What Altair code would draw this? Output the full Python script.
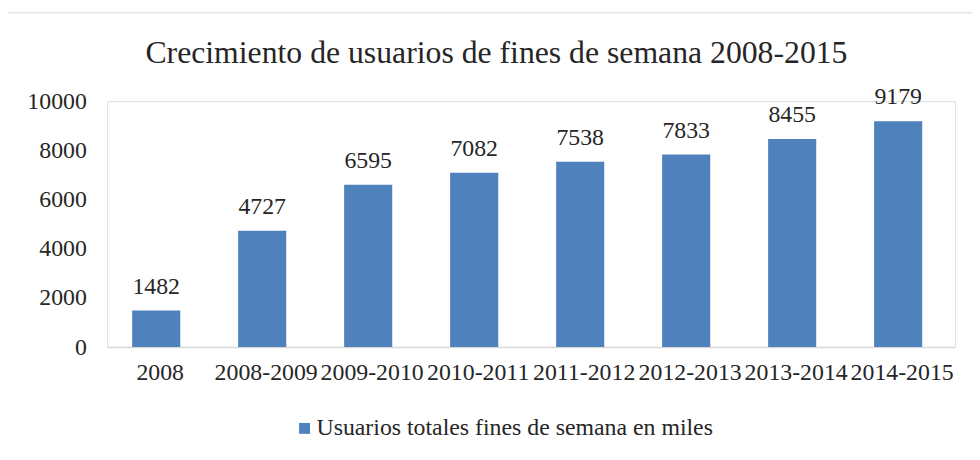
import altair as alt
import pandas as pd

categories = ["2008", "2008-2009", "2009-2010", "2010-2011", "2011-2012",
              "2012-2013", "2013-2014", "2014-2015"]
values = [1482, 4727, 6595, 7082, 7538, 7833, 8455, 9179]
series_name = "Usuarios totales fines de semana en miles"
title_text = "Crecimiento de usuarios de fines de semana 2008-2015"

FONT = "Liberation Serif"
TXT = "#262626"
BLUE = "#4F81BD"

df = pd.DataFrame({"cat": categories, "val": values, "serie": [series_name] * len(values)})

x = alt.X("cat:N", sort=categories, title=None,
          scale=alt.Scale(paddingInner=0, paddingOuter=0),
          axis=alt.Axis(labelAngle=0, labelFont=FONT, labelFontSize=24, labelColor=TXT,
                        ticks=False, domainColor="#d9d9d9", domainWidth=1.5,
                        labelPadding=14, grid=False, labelLimit=0))
y = alt.Y("val:Q", title=None,
          scale=alt.Scale(domain=[0, 10000], nice=False),
          axis=alt.Axis(values=[0, 2000, 4000, 6000, 8000, 10000], format="d",
                        labelFont=FONT, labelFontSize=24, labelColor=TXT, ticks=False,
                        domain=False, grid=False, labelPadding=21))

base = alt.Chart(df)

bars = base.mark_bar(size=48.5, xOffset=-4).encode(
    x=x, y=y,
    color=alt.Color("serie:N", scale=alt.Scale(range=[BLUE]),
                    legend=alt.Legend(title=None, orient="none", legendX=187, legendY=318,
                                      symbolType="square", symbolSize=121, padding=0,
                                      labelFont=FONT, labelFontSize=24, labelColor=TXT,
                                      labelOffset=0, symbolStrokeWidth=0, labelLimit=0))
)

labels = base.mark_text(baseline="alphabetic", dy=-17, xOffset=-4, font=FONT,
                        fontSize=24, color=TXT).encode(
    x=alt.X("cat:N", sort=categories), y="val:Q", text="val:Q"
)

single = alt.Chart(pd.DataFrame({"t": [title_text]}))

border = single.mark_rect(
    fill="transparent", stroke="#d9d9d9", strokeWidth=1
).encode(x=alt.value(-103), x2=alt.value(1000), y=alt.value(-89), y2=alt.value(600))

title = single.mark_text(font=FONT, fontSize=32, color=TXT, align="center",
                         baseline="alphabetic").encode(
    text="t:N", x=alt.value(392.5), y=alt.value(-38)
)

chart = alt.layer(border, title, bars, labels).properties(
    width=855, height=248,
    autosize=alt.AutoSizeParams(type="none"),
    padding={"left": 100, "top": 92, "right": 17, "bottom": 112},
).configure_view(stroke=None).configure(background="white")

chart.save("out.html", embed_options={"renderer": "svg", "actions": False})
